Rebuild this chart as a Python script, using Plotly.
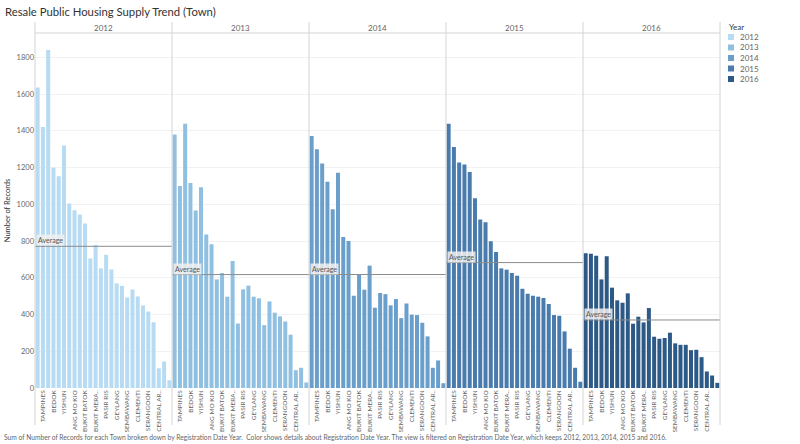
import plotly.graph_objects as go
from plotly.subplots import make_subplots

years = ["2012", "2013", "2014", "2015", "2016"]
towns = ["JURONG WEST", "TAMPINES", "WOODLANDS", "BEDOK", "SENGKANG", "YISHUN",
         "HOUGANG", "ANG MO KIO", "CHOA CHU KANG", "BUKIT BATOK", "PUNGGOL",
         "BUKIT MERAH", "TOA PAYOH", "PASIR RIS", "BUKIT PANJANG", "GEYLANG",
         "QUEENSTOWN", "SEMBAWANG", "KALLANG/WHAMPOA", "CLEMENTI", "JURONG EAST",
         "SERANGOON", "BISHAN", "CENTRAL AREA", "MARINE PARADE", "BUKIT TIMAH"]
shown_towns = ["TAMPINES", "BEDOK", "YISHUN", "ANG MO KIO", "BUKIT BATOK", "BUKIT MERAH",
               "PASIR RIS", "GEYLANG", "SEMBAWANG", "CLEMENTI", "SERANGOON", "CENTRAL AREA"]
shown_labels = ["TAMPINES", "BEDOK", "YISHUN", "ANG MO KIO", "BUKIT BATOK", "BUKIT MERA..",
                "PASIR RIS", "GEYLANG", "SEMBAWANG", "CLEMENTI", "SERANGOON", "CENTRAL AR.."]

records_2012 = [1636, 1421, 1839, 1198, 1153, 1320, 1004, 967, 944, 895, 705, 778, 651,
                725, 645, 569, 556, 493, 536, 498, 449, 416, 358, 107, 144, 42]
records_2013 = [1380, 1100, 1438, 1116, 966, 1093, 836, 782, 591, 626, 497, 691, 351,
                537, 557, 497, 488, 342, 471, 410, 390, 362, 290, 97, 110, 30]
records_2014 = [1372, 1300, 1222, 1122, 973, 1171, 822, 800, 502, 618, 535, 666, 437,
                517, 511, 450, 484, 380, 460, 399, 397, 355, 281, 110, 150, 26]
records_2015 = [1438, 1311, 1227, 1216, 1176, 1033, 917, 902, 798, 740, 651, 644, 626,
                611, 540, 513, 502, 497, 490, 457, 397, 393, 308, 214, 110, 34]
records_2016 = [733, 731, 720, 591, 717, 546, 477, 464, 515, 350, 388, 357, 435,
                279, 268, 272, 301, 243, 235, 235, 206, 208, 168, 90, 68, 28]
records = [records_2012, records_2013, records_2014, records_2015, records_2016]
colors = ["#b6dbf2", "#8fbfe1", "#6b9fcb", "#4a7bad", "#2c5986"]

font_family = "Lato, Open Sans, sans-serif"
grey = "#666666"
line_grey = "#d4d4d4"

W, H = 800, 444
ML, MR, MT, MB = 35, 80, 33, 56
PW, PH = W - ML - MR, H - MT - MB


def px_x(x):
    return (x - ML) / PW


def px_y(y):
    return (H - MB - y) / PH


fig = make_subplots(rows=1, cols=5, shared_yaxes=True, horizontal_spacing=0)

for i, (yr, vals, col) in enumerate(zip(years, records, colors)):
    fig.add_trace(go.Bar(x=towns, y=vals, name=yr, marker_color=col,
                         marker_line_width=0, showlegend=False), row=1, col=i + 1)
    avg = sum(vals) / len(vals)
    xd = "x domain" if i == 0 else f"x{i+1} domain"
    yr_ref = "y" if i == 0 else f"y{i+1}"
    fig.add_shape(type="line", xref=xd, yref=yr_ref, x0=0, x1=1, y0=avg, y1=avg,
                  line=dict(color="#8c8c8c", width=1))
    fig.add_annotation(xref=xd, yref=yr_ref, x=0.01, y=avg, xanchor="left", yanchor="bottom",
                       text="Average", showarrow=False,
                       font=dict(size=7, color="#555555", family=font_family),
                       bgcolor="rgba(240,240,240,0.85)", borderpad=1)
    fig.add_annotation(xref=xd, yref="paper", x=0.5, y=px_y(28), xanchor="center", yanchor="middle",
                       text=yr, showarrow=False, font=dict(size=8, color=grey, family=font_family))
    # manual legend entry
    cy = 37 + i * 10.5
    fig.add_shape(type="rect", xref="paper", yref="paper", x0=px_x(728), x1=px_x(734),
                  y0=px_y(cy - 3), y1=px_y(cy + 3), fillcolor=col, line=dict(width=0))
    fig.add_annotation(xref="paper", yref="paper", x=px_x(737.5), y=px_y(cy), xanchor="left",
                       yanchor="middle", text=yr, showarrow=False,
                       font=dict(size=8, color=grey, family=font_family))

fig.add_annotation(xref="paper", yref="paper", x=px_x(727), y=px_y(27), xanchor="left",
                   yanchor="middle", text="Year", showarrow=False,
                   font=dict(size=8, color="#333333", family=font_family))

for i in range(5):
    fig.update_xaxes(type="category", tickmode="array", tickvals=shown_towns, ticktext=shown_labels,
                     tickangle=-90, tickfont=dict(size=6.5, color=grey, family=font_family),
                     showgrid=False, showline=False, ticks="", automargin=False,
                     row=1, col=i + 1)

fig.update_yaxes(range=[0, 1932], dtick=200, gridcolor="#f2f2f2", zeroline=False, ticks="",
                 tickfont=dict(size=7.5, color=grey, family=font_family), showline=False,
                 automargin=False)
fig.update_yaxes(title=dict(text="Number of Records", font=dict(size=7.5, color="#333333", family=font_family),
                            standoff=4), row=1, col=1)

# panel dividers and header line
for k in range(6):
    fig.add_shape(type="line", xref="paper", yref="paper", x0=k / 5, x1=k / 5, y0=px_y(425), y1=px_y(22),
                  line=dict(color=line_grey, width=1))
fig.add_shape(type="line", xref="paper", yref="paper", x0=0, x1=1, y0=1, y1=1,
              line=dict(color=line_grey, width=1))

fig.add_annotation(xref="paper", yref="paper", x=px_x(2), y=px_y(437), xanchor="left", yanchor="middle",
                   text="Sum of Number of Records for each Town broken down by Registration Date Year.  Color shows details about Registration Date Year. The view is filtered on Registration Date Year, which keeps 2012, 2013, 2014, 2015 and 2016.",
                   showarrow=False, font=dict(size=6.7, color=grey, family=font_family))

fig.add_annotation(xref="paper", yref="paper", x=px_x(3), y=px_y(11), xanchor="left", yanchor="middle",
                   text="Resale Public Housing Supply Trend (Town)", showarrow=False,
                   font=dict(size=11.3, color="#333333", family=font_family))

fig.update_layout(
    width=W, height=H,
    margin=dict(l=ML, r=MR, t=MT, b=MB),
    paper_bgcolor="white", plot_bgcolor="white",
    bargap=0.24,
    showlegend=False,
)

fig.write_html("out.html", config={"displayModeBar": False},
               post_script="document.body.style.margin='0';document.body.style.overflow='hidden';")
